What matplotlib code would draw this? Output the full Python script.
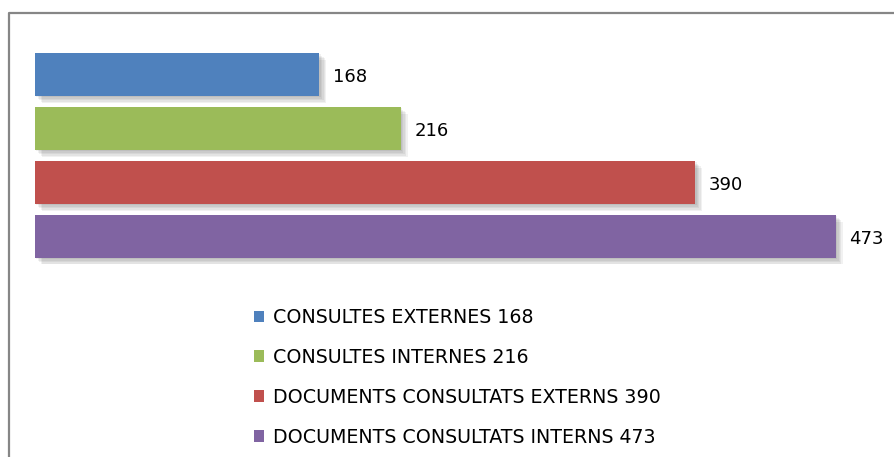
import matplotlib
matplotlib.use("Agg")
import matplotlib.pyplot as plt
import matplotlib.patheffects as pe
from matplotlib.patches import Patch
from matplotlib.lines import Line2D

categories = ["CONSULTES EXTERNES", "CONSULTES INTERNES",
              "DOCUMENTS CONSULTATS EXTERNS", "DOCUMENTS CONSULTATS INTERNS"]
values = [168, 216, 390, 473]
colors = ["#4F81BD", "#9BBB59", "#C0504D", "#8064A2"]

W, H = 895, 457
fig = plt.figure(figsize=(W / 100, H / 100), dpi=100)
plt.rcParams['font.family'] = ['DejaVu Sans']

# axes placed in pixel terms
left, right = 35, 35 + 500 * 1.693
top, bottom = 47.5, 263.5
ax = fig.add_axes([left / W, 1 - bottom / H, (right - left) / W, (bottom - top) / H])

ypos = list(range(len(values)))
shadow = [pe.SimplePatchShadow(offset=(d, -d), shadow_rgbFace="black", alpha=0.055)
          for d in (1, 2, 3, 4, 5)] + [pe.Normal()]
bars = ax.barh(ypos, values, height=0.8, color=colors)
for b in bars:
    b.set_path_effects(shadow)

for y, v in zip(ypos, values):
    ax.text(v + 8, y + 0.05, str(v), va="center", ha="left", fontsize=13, color="black")

ax.set_xlim(0, 500)
ax.set_ylim(len(values) - 0.5, -0.5)
ax.axis("off")

handles = [Patch(facecolor=c, edgecolor="none") for c in colors]
labels = [f"{c} {v}" for c, v in zip(categories, values)]
fig.legend(handles, labels, loc="upper left", bbox_to_anchor=(254 / W, 1 - 308 / H),
           frameon=False, fontsize=13.7, handlelength=0.55, handleheight=0.55,
           handletextpad=0.45, labelspacing=1.1, borderpad=0, borderaxespad=0)

# outer chart border (top and left visible)
fig.add_artist(Line2D([8.5 / W, 8.5 / W, 1], [0, 1 - 12.5 / H, 1 - 12.5 / H],
                      transform=fig.transFigure, color="#868686", linewidth=1.6))

fig.savefig("out.png", dpi=100)
